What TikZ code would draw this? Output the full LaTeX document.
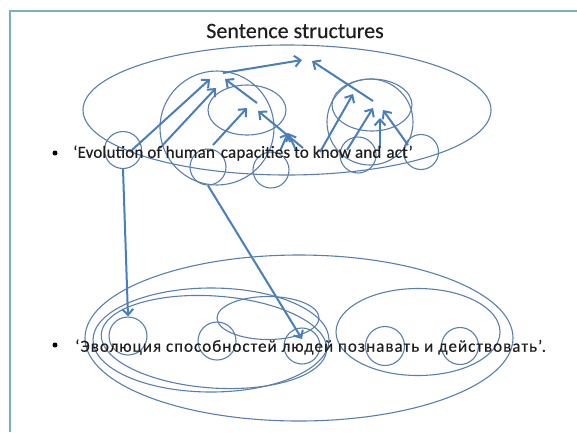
\documentclass[tikz,border=0pt]{standalone}
\usepackage{fontspec}
\setmainfont{Carlito}
\usetikzlibrary{shapes.geometric,arrows.meta}
\definecolor{lineblue}{HTML}{4A7EBB}
\definecolor{ringblue}{HTML}{5A7FAE}
\definecolor{frameteal}{HTML}{7AAFBB}
\definecolor{inkdark}{HTML}{1E1E1E}
\begin{document}
\begin{tikzpicture}[x=1pt,y=-1pt,
  ring/.style={circle,draw=ringblue,line width=1.1pt,inner sep=0pt,minimum size=#1},
  oval/.style={ellipse,draw=ringblue,line width=1.1pt,inner sep=0pt},
  arr/.style={draw=lineblue,line width=2pt,-{Straight Barb[length=6pt,width=11pt]}},
  txt/.style={text=inkdark,inner sep=0pt},
  dot/.style={circle,fill=black,inner sep=0pt,minimum size=5pt}]
\useasboundingbox (0,0) rectangle (577,432);
% frame
\draw[frameteal,line width=1.4pt] (10,432) -- (10,11) -- (577,11);
% title
\node[txt,font=\fontsize{22}{25}\selectfont\addfontfeature{FakeBold=0.3}] (title) at (295,31) {Sentence structures};
% ---------- top structure ----------
\node[oval,minimum width=408pt,minimum height=130pt] (topE) at (287,110) {};
\node[ring=114pt] (bigL) at (217,128) {};
\node[oval,minimum width=78pt,minimum height=50pt] (inL) at (247,110) {};
\node[ring=86pt] (bigR) at (370,122) {};
\node[oval,minimum width=80pt,minimum height=52pt] (inR) at (372,105) {};
\node[ring=37pt] (c1) at (123,150) {};
\node[ring=36pt] (c2) at (208,167) {};
\node[ring=36pt] (c3) at (271,170) {};
\node[ring=36pt] (c4) at (358,155) {};
\node[ring=35pt] (c5) at (421,152) {};
% top coordinates
\coordinate (t1) at (302,60);
\coordinate (t2) at (312,61);
\coordinate (lA) at (210,79);
\coordinate (lB) at (216,88);
\coordinate (lC) at (225,79);
\coordinate (lS) at (223,73);
\coordinate (iA) at (247,108);
\coordinate (iB) at (258,111);
\coordinate (iS) at (257,103);
\coordinate (dd) at (288,133);
\coordinate (rS) at (373,101);
\coordinate (rA) at (353,94);
\coordinate (rB) at (373,108);
\coordinate (rC) at (380,118);
\coordinate (rD) at (383,110);
\coordinate (w1) at (132,150);
\coordinate (w2) at (160,148);
\coordinate (w3) at (213,145);
\coordinate (w4) at (303,148);
\coordinate (w5) at (280,151);
\coordinate (w6) at (296,150);
\coordinate (w7) at (320,152);
\coordinate (w8) at (347,150);
\coordinate (w9) at (380,148);
\coordinate (w10) at (408,145);
% top arrows
\draw[arr] (lS) -- (t1);
\draw[arr] (rS) -- (t2);
\draw[arr] (w1) -- (lA);
\draw[arr] (w2) -- (lB);
\draw[arr] (iS) -- (lC);
\draw[arr] (w3) -- (iA);
\draw[arr] (w4) -- (iB);
\draw[arr] (w5) -- (dd);
\draw[arr] (w6) -- (dd);
\draw[arr] (w7) -- (rA);
\draw[arr] (w8) -- (rB);
\draw[arr] (w9) -- (rC);
\draw[arr] (w10) -- (rD);
% ---------- bottom structure ----------
\node[oval,minimum width=428pt,minimum height=166pt] (botE) at (299,338) {};
\node[oval,minimum width=236pt,minimum height=104pt] (leftE) at (211,340) {};
\node[oval,minimum width=226pt,minimum height=92pt,rotate=-4] (leftE2) at (214,342) {};
\node[oval,minimum width=102pt,minimum height=43pt] (midE) at (268,318) {};
\node[oval,minimum width=164pt,minimum height=87pt] (rightE) at (418,332) {};
\node[ring=38pt] (b1) at (128,336) {};
\node[ring=38pt] (b2) at (217,341) {};
\node[ring=36pt] (b3) at (302,346) {};
\node[ring=39pt] (b4) at (385,346) {};
\node[ring=37pt] (b5) at (460,346) {};
\coordinate (bT) at (302,339);
% cross arrows
\draw[arr] (c1.south) -- (b1.north);
\draw[arr] (c2.south) -- (bT);
% ---------- sentences ----------
\node[dot] (bul1) at (55,153) {};
\node[txt,anchor=west,font=\fontsize{17}{20}\selectfont\addfontfeature{FakeBold=0.4,LetterSpace=1}] (s1) at (73,153) {‘Evolution of human\hspace{0.35em}capacities to know and\hspace{0.3em}act’};
\node[dot] (bul2) at (55,345) {};
\node[txt,anchor=west,font=\fontsize{17}{20}\selectfont\addfontfeature{FakeBold=0.4,LetterSpace=6}] (s2) at (75,347) {‘Эволюция способностей людей познавать и действовать’.};
\end{tikzpicture}
\end{document}
